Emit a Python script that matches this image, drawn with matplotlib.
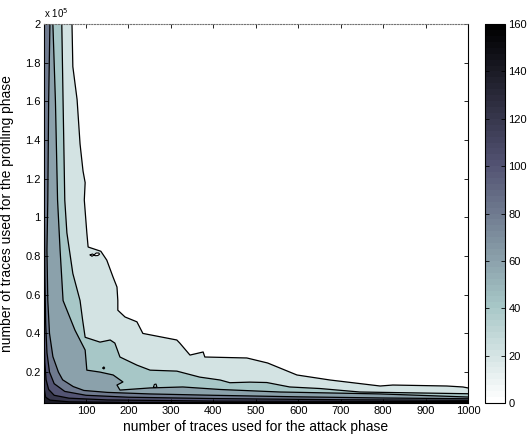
import matplotlib
matplotlib.use('Agg')
import matplotlib.pyplot as plt
from matplotlib import ticker, colors, cm

plt.rcParams['font.family'] = ['Liberation Sans', 'DejaVu Sans']

# contour lines
# x = number of attack traces, y = number of profiling traces (in thousands)
x20 = [67, 69, 79, 86, 93, 98, 96, 102, 105, 135, 149, 164, 173, 175, 175, 192, 220, 234,
       314, 321, 345, 376, 380, 479, 528, 597, 675, 793, 823, 950, 988, 1000]
y20 = [200, 178, 161, 138, 124, 118, 109, 92, 84.7, 82.5, 77.9, 69, 64, 57, 52, 48.5, 46, 40,
       36.6, 35, 28.8, 30.4, 27.8, 27.3, 24.7, 18.5, 15.9, 12.8, 13.3, 12.8, 12.3, 11.8]
x40 = [43, 46, 50, 55, 69, 86, 92, 98, 133, 157, 168, 180, 220, 251, 314, 368, 416, 439, 486, 526,
       580, 651, 745, 799, 1000]
y40 = [200, 160, 109, 92, 71, 57, 47, 38, 35.5, 36.6, 35, 27.8, 23.6, 21, 20.5, 17.4, 15.9, 14.5,
       14.8, 14.6, 12.3, 11.5, 9.7, 9.5, 8.8]
x60 = [22, 28, 33, 39, 46, 74, 98, 102, 133, 164, 187, 173, 180, 251, 328, 416, 557, 793, 1000]
y60 = [200, 160, 109, 83, 57, 41.7, 31.4, 21, 20, 18.5, 14.9, 13.3, 10.7, 11.8, 12.3, 11, 9.7, 8.7, 7.1]
x80 = [15, 12, 10, 8, 10, 14, 22, 35, 45, 70, 95, 150, 250, 400, 600, 800, 1000]
y80 = [200, 160, 109, 83, 57, 40, 28, 20, 16, 12.5, 10.5, 9.5, 8.7, 8, 7.2, 6.6, 6.2]
x100 = [1, 3, 5, 8, 14, 25, 50, 100, 200, 400, 700, 1000]
y100 = [130, 70, 45, 30, 20, 14, 10, 8, 7, 6.3, 5.7, 5.4]
x120 = [1, 3, 6, 12, 25, 60, 150, 400, 1000]
y120 = [40, 25, 16, 11, 8, 6.5, 5.6, 5, 4.8]
x140 = [1, 5, 15, 60, 200, 1000]
y140 = [12, 7, 5.5, 4.6, 4.3, 4.2]
# small islands: white one next to the 20 line, tiny ones in the 40-60 band
blob_x = [110, 114, 119, 124, 130, 132, 128, 122, 119, 115, 110]
blob_y = [80.6, 79.9, 80.6, 81.6, 81.6, 81.0, 80.3, 80.2, 80.6, 81.1, 80.6]
dot_x = [140, 142, 144, 142, 140]
dot_y = [22.1, 22.7, 22.1, 21.6, 22.1]
loop_x = [259, 261, 265, 267, 263, 259]
loop_y = [12.2, 13.6, 13.8, 12.4, 12.0, 12.2]

levels = [20, 40, 60, 80, 100, 120, 140]
lines = [(x20, y20), (x40, y40), (x60, y60), (x80, y80), (x100, y100), (x120, y120), (x140, y140)]

xmin, xmax = 1, 1000
ymin, ymax = 4000, 200000

fig = plt.figure(figsize=(5.28, 4.34), dpi=100)
ax = fig.add_axes([0.0833, 0.0714, 0.803, 0.873])

norm = colors.Normalize(0, 160)
cmap = plt.get_cmap('bone_r')

for lev, (xs, ys) in zip(levels, lines):
    px = list(xs) + [xmax, xmin, xmin]
    py = [v * 1000 for v in ys] + [ymin, ymin, ymax]
    ax.fill(px, py, color=cmap(norm(lev)), lw=0)
ax.fill(blob_x, [v * 1000 for v in blob_y], color='white', lw=0)
ax.fill(loop_x, [v * 1000 for v in loop_y], color=cmap(norm(40)), lw=0)

for xs, ys in lines:
    ax.plot(xs, [v * 1000 for v in ys], color='black', lw=0.9)
for xs, ys in [(blob_x, blob_y), (dot_x, dot_y), (loop_x, loop_y)]:
    ax.plot(xs, [v * 1000 for v in ys], color='black', lw=0.8)

ax.set_xlim(xmin, xmax)
ax.set_ylim(ymin, ymax)
ax.set_xticks(range(100, 1001, 100))
ax.set_yticks([v * 20000 for v in range(1, 11)])
ax.yaxis.set_major_formatter(ticker.FuncFormatter(lambda v, p: '%g' % round(v / 1e5, 1)))
ax.tick_params(direction='in', length=3, labelsize=8, top=True, right=True, width=0.6, pad=2.5)
for s in ax.spines.values():
    s.set_linewidth(0.8)
ax.spines['top'].set_linestyle((0, (1, 1.5)))
ax.spines['top'].set_color('0.45')
ax.text(0.0, 1.012, 'x 10$^5$', transform=ax.transAxes, ha='left', va='bottom', fontsize=7)

ax.set_xlabel('number of traces used for the attack phase', fontsize=10)
ax.set_ylabel('number of traces used for the profiling phase', fontsize=10)
ax.xaxis.set_label_coords(0.5, -0.046)
ax.yaxis.set_label_coords(-0.071, 0.5)

cax = fig.add_axes([0.9186, 0.0714, 0.0379, 0.873])
sm = cm.ScalarMappable(norm=norm, cmap=plt.get_cmap('bone_r', 64))
cb = fig.colorbar(sm, cax=cax, ticks=range(0, 161, 20))
cb.outline.set_linewidth(0.8)
cax.tick_params(direction='in', length=3, labelsize=8, left=True, right=True, width=0.6, pad=2.5)

fig.savefig('out.png', dpi=100)
